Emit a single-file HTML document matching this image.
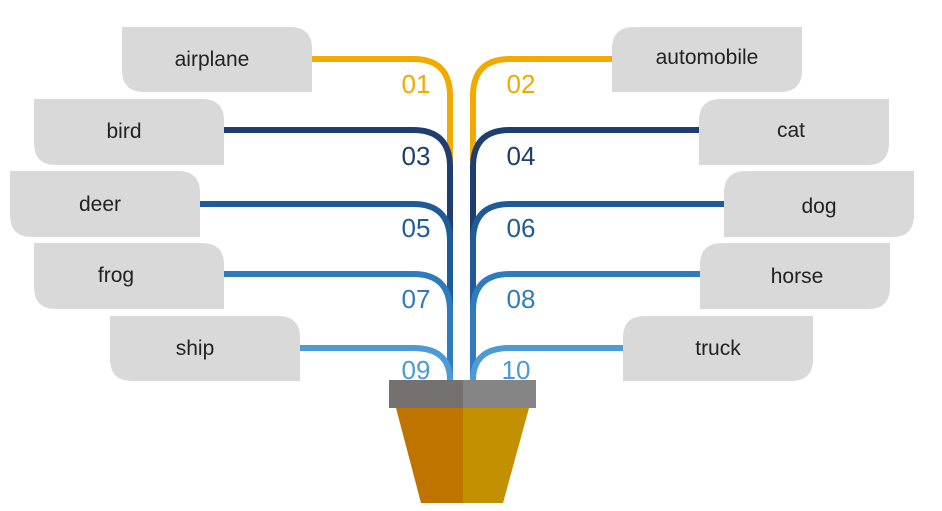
<!DOCTYPE html>
<html><head><style>
body{margin:0;background:#fff;}
svg{display:block}
text{font-family:"Liberation Sans",sans-serif}
</style></head><body>
<svg width="942" height="511" viewBox="0 0 942 511" xmlns="http://www.w3.org/2000/svg">
<g fill="#d9d9d9">
<path d="M122,27 H290 Q312,27 312,49 V92 H144 Q122,92 122,70 Z"/>
<path d="M34,99 H202 Q224,99 224,121 V165 H56 Q34,165 34,143 Z"/>
<path d="M10,171 H178 Q200,171 200,193 V237 H32 Q10,237 10,215 Z"/>
<path d="M34,243 H202 Q224,243 224,265 V309 H56 Q34,309 34,287 Z"/>
<path d="M110,316 H278 Q300,316 300,338 V381 H132 Q110,381 110,359 Z"/>
<path d="M634,27 H802 V70 Q802,92 780,92 H612 V49 Q612,27 634,27 Z"/>
<path d="M721,99 H889 V143 Q889,165 867,165 H699 V121 Q699,99 721,99 Z"/>
<path d="M746,171 H914 V215 Q914,237 892,237 H724 V193 Q724,171 746,171 Z"/>
<path d="M722,243 H890 V287 Q890,309 868,309 H700 V265 Q700,243 722,243 Z"/>
<path d="M645,316 H813 V359 Q813,381 791,381 H623 V338 Q623,316 645,316 Z"/>
</g>
<g fill="#222" font-size="21" text-anchor="middle">
<text x="212" y="66">airplane</text>
<text x="124" y="138">bird</text>
<text x="100" y="211">deer</text>
<text x="116" y="282">frog</text>
<text x="195" y="355">ship</text>
<text x="707" y="64">automobile</text>
<text x="791" y="137">cat</text>
<text x="819" y="213">dog</text>
<text x="797" y="283">horse</text>
<text x="718" y="355">truck</text>
</g>
<g fill="none" stroke-width="6">
<path d="M312,59 H413 Q450,59 450,96 V380" stroke="#f2a900"/>
<path d="M612,59 H510 Q473,59 473,96 V380" stroke="#f2a900"/>
<path d="M224,130 H413 Q450,130 450,167 V380" stroke="#1d3e6e"/>
<path d="M699,130 H510 Q473,130 473,167 V380" stroke="#1d3e6e"/>
<path d="M200,204 H413 Q450,204 450,241 V380" stroke="#1f5a99"/>
<path d="M724,204 H510 Q473,204 473,241 V380" stroke="#1f5a99"/>
<path d="M224,274 H413 Q450,274 450,311 V380" stroke="#2e7bc0"/>
<path d="M700,274 H510 Q473,274 473,311 V380" stroke="#2e7bc0"/>
<path d="M300,348 H413 Q450,348 450,380" stroke="#4a9bd6"/>
<path d="M623,348 H510 Q473,348 473,380" stroke="#4a9bd6"/>
</g>
<g font-size="26" text-anchor="middle">
<text x="416" y="93" fill="#f2a900">01</text>
<text x="521" y="93" fill="#f2a900">02</text>
<text x="416" y="165" fill="#1d3e6e">03</text>
<text x="521" y="165" fill="#1d3e6e">04</text>
<text x="416" y="237" fill="#1f5a99">05</text>
<text x="521" y="237" fill="#1f5a99">06</text>
<text x="416" y="308" fill="#2e7bc0">07</text>
<text x="521" y="308" fill="#2e7bc0">08</text>
<text x="416" y="379" fill="#4a9bd6">09</text>
<text x="516" y="379" fill="#4a9bd6">10</text>
</g>
<rect x="389" y="380" width="74" height="28" fill="#767171"/>
<rect x="463" y="380" width="73" height="28" fill="#858585"/>
<path d="M396,408 H463 V503 H421 Z" fill="#bf7400"/>
<path d="M463,408 H529 L503,503 H463 Z" fill="#c29000"/>
</svg>
</body></html>
